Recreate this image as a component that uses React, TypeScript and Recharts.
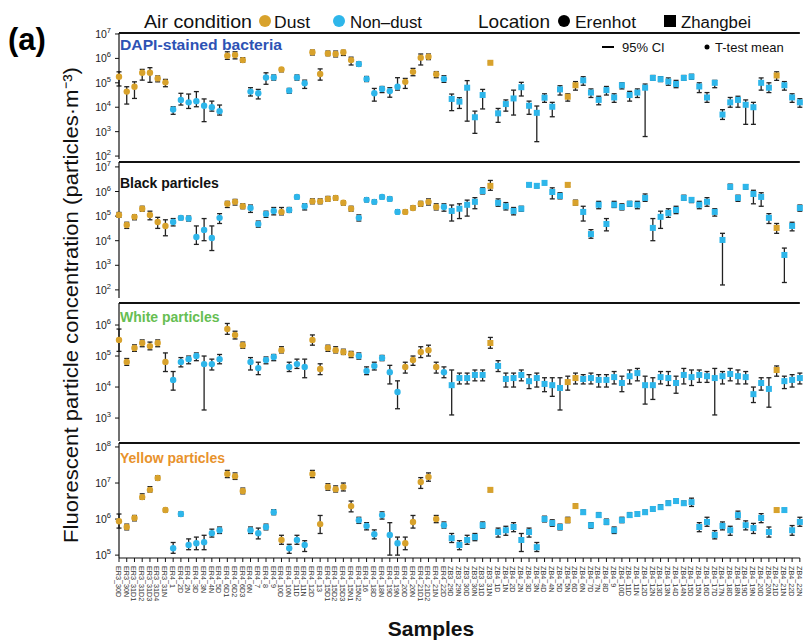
import React from 'react';
import { ComposedChart, Scatter, XAxis, YAxis, ErrorBar, ReferenceLine } from 'recharts';

const samples = ['ER3_30D','ER3_30N','ER3_31D1','ER3_31D2','ER3_31D3','ER3_31D4','ER3_31N','ER4_1','ER4_2D','ER4_2N','ER4_3D','ER4_3N','ER4_4N','ER4_5D','ER4_6D1','ER4_6D2','ER4_6D3','ER4_6N','ER4_7','ER4_8','ER4_9','ER4_10D','ER4_10N','ER4_11D','ER4_11N','ER4_12D','ER4_13','ER4_15D1','ER4_15D2','ER4_15D3','ER4_15N1','ER4_15N2','ER4_16','ER4_18D','ER4_18N','ER4_19D','ER4_19N','ER4_20D','ER4_20N','ER4_21D1','ER4_21D2','ER4_21N','ER4_22D','ZB3_29D','ZB3_29N','ZB3_30D','ZB3_30N','ZB3_31D','ZB3_31N','ZB4_1D','ZB4_1N','ZB4_2D','ZB4_2N','ZB4_3D','ZB4_3N','ZB4_4D','ZB4_4N','ZB4_5D','ZB4_5N','ZB4_6D','ZB4_6N','ZB4_7D','ZB4_7N','ZB4_8D','ZB4_9','ZB4_10D','ZB4_11D','ZB4_11N','ZB4_12D','ZB4_12N','ZB4_13D','ZB4_13N','ZB4_14D','ZB4_14N','ZB4_15D','ZB4_15N','ZB4_16D','ZB4_17D','ZB4_17N','ZB4_18D','ZB4_18N','ZB4_19D','ZB4_19N','ZB4_20D','ZB4_20N','ZB4_21D','ZB4_21N','ZB4_22D','ZB4_22N'];

const dustSamples = ['ER3_30D','ER3_30N','ER3_31D1','ER3_31D2','ER3_31D3','ER3_31D4','ER3_31N','ER4_6D1','ER4_6D2','ER4_6D3','ER4_10D','ER4_12D','ER4_13','ER4_15D1','ER4_15D2','ER4_15D3','ER4_15N1','ER4_20D','ER4_20N','ER4_21D1','ER4_21D2','ER4_21N','ZB3_31N','ZB4_5N','ZB4_6D','ZB4_21D'];

// log10 of concentrations (particles·m-3)
const dapiMean = [5.25,4.64,4.84,5.41,5.41,5.18,5.02,3.91,4.30,4.20,4.25,4.06,4.00,3.84,6.11,6.14,5.93,4.64,4.57,5.22,5.22,5.55,4.68,5.22,4.98,6.25,5.36,6.20,6.18,6.25,5.93,5.77,5.16,4.57,4.75,4.66,4.84,5.04,5.45,6.03,6.07,5.35,5.16,4.34,4.23,4.80,3.59,4.50,5.82,3.75,4.13,4.36,4.82,4.06,3.77,4.39,4.02,4.73,4.43,4.90,5.10,4.60,4.30,4.70,4.40,4.90,4.50,4.60,4.80,5.20,5.15,5.05,4.95,5.20,5.25,4.85,4.40,5.00,3.70,4.20,4.30,4.10,4.00,5.00,4.80,5.30,4.90,4.40,4.20];
const dapiLow = [4.87,4.13,4.36,5.11,5.02,5.04,4.84,3.71,4.09,3.95,4.02,3.41,3.84,3.68,5.96,5.98,5.84,4.46,4.34,4.94,5.11,5.45,4.57,5.11,4.77,6.14,5.11,6.11,6.06,6.12,5.73,5.68,5.05,4.25,4.60,4.41,4.70,4.77,5.29,5.73,5.95,5.21,5.02,3.86,3.95,3.43,2.93,3.93,5.78,3.38,3.84,3.68,4.46,3.71,2.59,4.20,3.61,4.50,4.25,4.70,4.90,4.40,4.10,4.50,4.20,4.75,4.25,4.40,2.80,5.10,5.05,4.90,4.80,5.10,5.15,4.60,4.20,4.80,3.50,4.00,4.00,3.30,3.30,4.70,4.60,5.10,4.70,4.20,4.00];
const dapiHigh = [5.45,4.84,5.04,5.55,5.62,5.28,5.14,4.02,4.57,4.54,4.64,4.34,4.25,4.09,6.27,6.27,6.03,4.80,4.73,5.41,5.32,5.62,4.77,5.32,5.11,6.34,5.57,6.30,6.30,6.33,6.05,5.86,5.26,4.77,4.85,4.80,5.21,5.18,5.59,6.18,6.18,5.46,5.29,4.54,4.39,5.09,3.84,4.73,5.86,3.95,4.30,4.70,5.02,4.25,4.05,4.55,4.20,4.88,4.55,5.05,5.25,4.75,4.45,4.85,4.55,5.00,4.65,4.75,4.95,5.30,5.25,5.20,5.10,5.30,5.35,5.00,4.60,5.10,3.90,4.40,4.45,4.30,4.20,5.20,5.00,5.45,5.05,4.55,4.35];

const blackMean = [5.05,4.64,4.97,5.30,5.05,4.76,4.60,4.76,4.93,4.90,4.15,4.44,4.11,4.93,5.50,5.58,5.40,5.33,4.68,5.09,5.21,5.17,5.25,5.78,5.40,5.60,5.60,5.70,5.74,5.54,5.30,4.93,5.66,5.58,5.78,5.70,5.17,5.17,5.33,5.50,5.58,5.37,5.37,5.21,5.30,5.46,5.58,6.02,6.23,5.54,5.40,5.21,5.30,6.27,6.23,6.35,5.98,5.82,6.27,5.54,5.17,4.27,5.46,4.68,5.46,5.37,5.50,5.46,5.74,4.52,4.97,5.13,5.25,5.74,5.66,5.46,5.58,5.17,4.03,6.19,5.74,6.19,5.90,5.78,4.93,4.52,3.42,4.60,5.33];
const blackLow = [4.95,4.50,4.85,5.20,4.85,4.50,4.20,4.60,4.85,4.80,3.85,4.00,3.60,4.70,5.35,5.45,5.30,5.15,4.55,4.95,5.05,5.05,5.15,5.70,5.25,5.50,5.50,5.60,5.65,5.45,5.20,4.80,5.58,5.50,5.70,5.62,5.10,5.10,5.25,5.40,5.45,5.25,5.20,4.80,4.90,5.00,5.30,5.90,6.05,5.40,5.25,5.05,5.20,6.20,6.15,6.28,5.70,5.70,6.20,5.45,4.80,4.10,5.30,4.40,5.35,5.25,5.40,5.30,5.60,4.00,4.50,4.95,5.10,5.65,5.55,5.30,5.40,5.00,2.20,6.10,5.60,6.10,5.50,5.40,4.70,4.30,2.30,4.40,5.20];
const blackHigh = [5.15,4.75,5.05,5.40,5.20,4.95,4.85,4.90,5.00,5.00,4.60,4.90,4.60,5.10,5.60,5.68,5.50,5.45,4.80,5.20,5.35,5.35,5.35,5.85,5.50,5.70,5.70,5.80,5.82,5.62,5.40,5.05,5.74,5.66,5.85,5.78,5.25,5.25,5.42,5.60,5.70,5.50,5.50,5.45,5.50,5.65,5.75,6.15,6.45,5.70,5.55,5.35,5.40,6.35,6.32,6.42,6.15,5.95,6.35,5.65,5.40,4.45,5.60,4.90,5.60,5.50,5.60,5.60,5.90,4.90,5.20,5.30,5.40,5.85,5.75,5.60,5.75,5.30,4.30,6.30,5.85,6.28,6.05,5.95,5.10,4.70,3.70,4.75,5.45];

const whiteMean = [5.52,4.81,5.26,5.42,5.32,5.42,4.81,4.23,4.81,4.90,5.00,4.74,4.74,4.90,5.87,5.68,5.35,4.81,4.61,4.87,4.97,5.19,4.65,4.74,4.65,5.52,4.58,5.26,5.19,5.13,5.06,5.00,4.52,4.68,4.94,4.48,3.84,4.65,4.87,5.13,5.19,4.65,4.48,4.06,4.29,4.29,4.39,4.39,5.42,4.68,4.26,4.29,4.39,4.19,4.29,4.10,4.06,3.97,4.16,4.29,4.26,4.29,4.23,4.23,4.32,4.13,4.35,4.45,4.06,4.06,4.32,4.29,4.13,4.39,4.32,4.39,4.35,4.29,4.35,4.42,4.35,4.32,3.77,4.13,3.94,4.55,4.19,4.23,4.29];
const whiteLow = [5.15,4.70,5.15,5.30,5.20,5.30,4.50,3.90,4.65,4.75,4.85,3.26,4.55,4.75,5.70,5.55,5.25,4.55,4.40,4.75,4.85,5.10,4.50,4.60,4.30,5.35,4.40,5.15,5.10,5.05,4.95,4.90,4.40,4.55,4.85,4.10,3.30,4.45,4.70,4.95,5.00,4.45,4.30,3.10,4.10,4.10,4.20,4.20,5.25,4.50,4.00,4.00,4.20,3.95,4.00,3.85,3.70,3.26,3.90,4.10,4.10,4.10,4.00,4.00,4.10,3.85,4.10,4.20,3.45,3.60,4.10,4.05,3.80,4.10,4.05,4.15,4.15,3.10,4.10,4.20,4.10,4.10,3.50,3.90,3.35,4.35,3.95,4.00,4.10];
const whiteHigh = [5.87,4.92,5.36,5.52,5.45,5.52,5.10,4.50,4.95,5.00,5.10,5.00,4.90,5.05,6.05,5.80,5.45,4.95,4.80,4.97,5.05,5.30,4.80,4.90,4.90,5.68,4.75,5.35,5.30,5.22,5.15,5.10,4.65,4.80,5.02,4.70,4.20,4.80,5.00,5.30,5.35,4.80,4.65,4.55,4.45,4.45,4.55,4.55,5.60,4.85,4.45,4.45,4.55,4.40,4.45,4.30,4.30,4.30,4.35,4.45,4.40,4.45,4.40,4.40,4.50,4.35,4.55,4.60,4.35,4.30,4.50,4.50,4.35,4.60,4.55,4.55,4.50,4.60,4.50,4.60,4.55,4.50,4.00,4.30,4.30,4.68,4.35,4.40,4.45];

const yellowMean = [5.94,5.78,6.03,6.61,6.81,7.14,6.25,5.19,6.14,5.28,5.33,5.36,5.61,5.69,7.25,7.19,6.78,5.69,5.61,5.78,6.19,5.42,5.19,5.42,5.28,7.25,5.86,6.89,6.83,6.89,6.36,5.97,5.81,5.58,6.11,5.56,5.33,5.33,5.92,7.03,7.17,6.00,5.83,5.47,5.28,5.42,5.50,5.83,6.81,5.64,5.69,5.78,5.42,5.64,5.22,6.00,5.89,5.78,5.97,6.36,6.19,5.83,6.11,5.92,5.69,5.97,6.11,6.14,6.19,6.28,6.33,6.44,6.50,6.44,6.47,5.78,5.92,5.56,5.81,5.69,6.11,5.83,5.75,6.03,5.64,6.25,6.25,5.69,5.92];
const yellowLow = [5.75,5.70,5.95,6.55,6.75,7.08,6.20,5.05,6.08,5.15,5.15,5.15,5.50,5.60,7.15,7.10,6.70,5.60,5.45,5.70,6.12,5.30,5.05,5.30,5.10,7.15,5.60,6.80,6.75,6.78,6.20,5.88,5.70,5.45,6.00,5.00,5.00,5.15,5.75,6.85,7.05,5.90,5.75,5.35,5.15,5.30,5.40,5.75,6.76,5.50,5.55,5.65,5.10,5.50,5.10,5.92,5.80,5.70,5.90,6.30,6.14,5.75,6.05,5.85,5.60,5.90,6.05,6.08,6.13,6.22,6.27,6.38,6.44,6.38,6.35,5.65,5.80,5.45,5.70,5.55,6.00,5.70,5.60,5.90,5.50,6.20,6.20,5.55,5.80];
const yellowHigh = [6.14,5.86,6.10,6.70,6.90,7.20,6.30,5.35,6.20,5.45,5.50,5.55,5.72,5.78,7.35,7.28,6.86,5.78,5.75,5.86,6.26,5.55,5.30,5.55,5.40,7.35,6.10,6.98,6.92,7.00,6.50,6.05,5.90,5.70,6.20,5.90,5.50,5.50,6.10,7.15,7.28,6.10,5.92,5.60,5.40,5.55,5.60,5.92,6.86,5.75,5.80,5.90,5.60,5.75,5.35,6.08,5.98,5.86,6.05,6.42,6.25,5.90,6.18,6.00,5.78,6.05,6.18,6.20,6.25,6.34,6.40,6.50,6.56,6.50,6.58,5.90,6.05,5.68,5.92,5.80,6.22,5.95,5.88,6.15,5.78,6.30,6.30,5.82,6.05];

const GOLD = '#D8A22C';
const BLUE = '#2EB6EA';
const FONT = '"Liberation Sans", Arial, sans-serif';
const STEP = 7.65;
const PLOT_LEFT = 119;
const CHART_W = 806;
const RIGHT_MARGIN = CHART_W - PLOT_LEFT - STEP * samples.length;

function buildRows(mean: number[], lo: number[], hi: number[]) {
  return samples.map((name, i) => {
    const m = Math.pow(10, mean[i]);
    return {
      name,
      mean: m,
      err: [m - Math.pow(10, lo[i]), Math.pow(10, hi[i]) - m],
      dust: dustSamples.includes(name),
      zb: name.startsWith('ZB'),
    };
  });
}

const Marker = (props: any) => {
  const { cx, cy, payload } = props;
  if (cx == null || cy == null || !payload) return null;
  const fill = payload.dust ? GOLD : BLUE;
  if (payload.zb) {
    return <rect x={cx - 3} y={cy - 3} width={6} height={6} fill={fill} />;
  }
  return <circle cx={cx} cy={cy} r={3.2} fill={fill} />;
};

const LogTick = (props: any) => {
  const { x, y, payload } = props;
  const exp = Math.round(Math.log10(payload.value));
  return (
    <text x={x - 2} y={y + 4} textAnchor="end" fontSize={10.5} fontFamily={FONT} fill="#222">
      10<tspan dy={-5} fontSize={7.5}>{exp}</tspan>
    </text>
  );
};

const SampleTick = (props: any) => {
  const { x, y, payload } = props;
  return (
    <text transform={`translate(${x - 3.2},${y + 2}) rotate(90)`} fontSize={7.2} fontFamily={FONT} fill="#333" textAnchor="start">
      {payload.value}
    </text>
  );
};

type PanelProps = {
  top: number; height: number; plotTop: number; plotBottom: number;
  dmin: number; dmax: number; ticks: number[]; rows: any[]; showX?: boolean;
};

function Panel({ top, height, plotTop, plotBottom, dmin, dmax, ticks, rows, showX }: PanelProps) {
  const xH = showX ? 70 : 0;
  return (
    <div style={{ position: 'absolute', left: 0, top }}>
      <ComposedChart
        width={CHART_W}
        height={height}
        data={rows}
        margin={{ top: plotTop - top, bottom: top + height - plotBottom - xH, left: 0, right: RIGHT_MARGIN }}
      >
        <XAxis
          dataKey="name"
          type="category"
          interval={0}
          hide={!showX}
          height={xH}
          tick={<SampleTick />}
          tickSize={4}
          tickLine={{ stroke: '#111' }}
          axisLine={{ stroke: '#111', strokeWidth: 1.2 }}
        />
        <YAxis
          scale="log"
          domain={[Math.pow(10, dmin), Math.pow(10, dmax)]}
          allowDataOverflow
          ticks={ticks.map((e) => Math.pow(10, e))}
          interval={0}
          width={PLOT_LEFT}
          tick={<LogTick />}
          tickSize={4}
          tickLine={{ stroke: '#111' }}
          axisLine={{ stroke: '#111', strokeWidth: 1.2 }}
        />
        <ReferenceLine y={Math.pow(10, dmax)} stroke="#111" strokeWidth={2.2} />
        <Scatter dataKey="mean" shape={<Marker />} isAnimationActive={false}>
          <ErrorBar dataKey="err" direction="y" width={2.5} stroke="#222" strokeWidth={1.3} />
        </Scatter>
      </ComposedChart>
    </div>
  );
}

const dapiRows = buildRows(dapiMean, dapiLow, dapiHigh);
const blackRows = buildRows(blackMean, blackLow, blackHigh);
const whiteRows = buildRows(whiteMean, whiteLow, whiteHigh);
const yellowRows = buildRows(yellowMean, yellowLow, yellowHigh);

export default function App() {
  return (
    <div style={{ position: 'absolute', left: 0, top: 0, width: 806, height: 640, background: '#fff', overflow: 'hidden' }}>
      <Panel top={20} height={145} plotTop={33} plotBottom={159} dmin={1.88} dmax={7.04} ticks={[2, 3, 4, 5, 6, 7]} rows={dapiRows} />
      <Panel top={155} height={150} plotTop={162} plotBottom={298} dmin={1.67} dmax={7.2} ticks={[2, 3, 4, 5, 6, 7]} rows={blackRows} />
      <Panel top={295} height={150} plotTop={303} plotBottom={441} dmin={2.26} dmax={6.71} ticks={[3, 4, 5, 6]} rows={whiteRows} />
      <Panel top={435} height={205} plotTop={443} plotBottom={558} dmin={4.92} dmax={8.11} ticks={[5, 6, 7, 8]} rows={yellowRows} showX />
      <svg width={806} height={640} style={{ position: 'absolute', left: 0, top: 0, pointerEvents: 'none' }}>
        <text x={8} y={50} fontSize={31} fontWeight="bold" fontFamily={FONT} fill="#000">(a)</text>
        <text x={144} y={28} fontSize={19} fontFamily={FONT} fill="#111" textLength={108} lengthAdjust="spacingAndGlyphs">Air condition</text>
        <circle cx={265} cy={21} r={6} fill={GOLD} />
        <text x={274} y={28} fontSize={16} fontFamily={FONT} fill="#111" textLength={36} lengthAdjust="spacingAndGlyphs">Dust</text>
        <circle cx={339} cy={21} r={6} fill={BLUE} />
        <text x={350} y={28} fontSize={16} fontFamily={FONT} fill="#111" textLength={72} lengthAdjust="spacingAndGlyphs">Non–dust</text>
        <text x={478} y={28} fontSize={19} fontFamily={FONT} fill="#111" textLength={72} lengthAdjust="spacingAndGlyphs">Location</text>
        <circle cx={564} cy={21} r={6} fill="#000" />
        <text x={575} y={28} fontSize={16} fontFamily={FONT} fill="#111" textLength={61} lengthAdjust="spacingAndGlyphs">Erenhot</text>
        <rect x={664} y={15} width={12} height={12} fill="#000" />
        <text x={681} y={28} fontSize={16} fontFamily={FONT} fill="#111" textLength={70} lengthAdjust="spacingAndGlyphs">Zhangbei</text>

        <line x1={602} y1={47} x2={614} y2={47} stroke="#000" strokeWidth={2} />
        <text x={622} y={52} fontSize={13} fontFamily={FONT} fill="#111">95% CI</text>
        <circle cx={707} cy={47} r={2.5} fill="#000" />
        <text x={715} y={52} fontSize={13} fontFamily={FONT} fill="#111">T-test mean</text>

        <text x={120} y={50} fontSize={14} fontWeight="bold" fontFamily={FONT} fill="#2D52B4" textLength={162} lengthAdjust="spacingAndGlyphs">DAPI-stained bacteria</text>
        <text x={120} y={188} fontSize={14} fontWeight="bold" fontFamily={FONT} fill="#111">Black particles</text>
        <text x={120} y={322} fontSize={14} fontWeight="bold" fontFamily={FONT} fill="#66BE52">White particles</text>
        <text x={120} y={463} fontSize={14} fontWeight="bold" fontFamily={FONT} fill="#E8922C">Yellow particles</text>

        <text transform="translate(78,305) rotate(-90)" textAnchor="middle" fontSize={20} fontFamily={FONT} fill="#111" textLength={476} lengthAdjust="spacingAndGlyphs">Fluorescent particle concentration (particles·m⁻³)</text>
        <text x={431} y={636} textAnchor="middle" fontSize={21} fontWeight="bold" fontFamily={FONT} fill="#111">Samples</text>
      </svg>
    </div>
  );
}
